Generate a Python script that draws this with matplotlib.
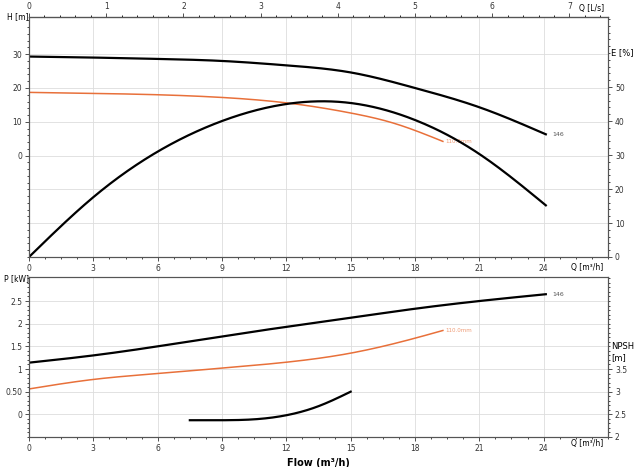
import matplotlib
matplotlib.use("Agg")
import matplotlib.pyplot as plt
import numpy as np
from matplotlib.ticker import MultipleLocator, FixedLocator

# data
q_h146 = [0, 3, 6, 9, 12, 15, 18, 21, 24.1]
h146 = [29.3, 29.0, 28.6, 28.0, 26.7, 24.6, 20.0, 14.3, 6.3]
q_h110 = [0, 3, 6, 9, 12, 15, 17, 19.3]
h110 = [18.7, 18.4, 18.0, 17.2, 15.6, 12.6, 9.6, 4.2]
q_eff = [0, 3, 6, 9, 12, 15, 18, 21, 24.1]
eff = [0, 17.6, 31, 40, 45, 45.3, 40.3, 30.3, 15.2]
q_p146 = [0, 3, 6, 9, 12, 15, 18, 21, 24.1]
p146 = [1.14, 1.3, 1.5, 1.72, 1.93, 2.13, 2.33, 2.5, 2.65]
q_p110 = [0, 3, 6, 9, 12, 15, 18, 19.3]
p110 = [0.56, 0.77, 0.9, 1.02, 1.15, 1.35, 1.68, 1.85]
q_npsh = [7.5, 9, 10.5, 12, 13.5, 15]
npsh = [2.37, 2.37, 2.39, 2.48, 2.68, 3.0]

ORANGE = "#e8703a"
GRID = "#dddddd"
fs = 5.5

def smooth(x, y):
    # natural cubic spline through the read points
    x = np.asarray(x, float); y = np.asarray(y, float)
    n = len(x); h = np.diff(x)
    A = np.zeros((n, n)); b = np.zeros(n)
    A[0, 0] = A[-1, -1] = 1
    for i in range(1, n-1):
        A[i, i-1] = h[i-1]; A[i, i] = 2*(h[i-1]+h[i]); A[i, i+1] = h[i]
        b[i] = 6*((y[i+1]-y[i])/h[i] - (y[i]-y[i-1])/h[i-1])
    M = np.linalg.solve(A, b)
    xs = np.linspace(x[0], x[-1], 300)
    idx = np.clip(np.searchsorted(x, xs) - 1, 0, n-2)
    x0, x1 = x[idx], x[idx+1]; hh = x1 - x0
    ys = (M[idx]*(x1-xs)**3/(6*hh) + M[idx+1]*(xs-x0)**3/(6*hh)
          + (y[idx]/hh - M[idx]*hh/6)*(x1-xs) + (y[idx+1]/hh - M[idx+1]*hh/6)*(xs-x0))
    return xs, ys

fig = plt.figure(figsize=(6.4, 4.67), dpi=100)
L, R = 29/640, 608/640
ax1 = fig.add_axes([L, 1-257/467, R-L, 240/467])
ax2 = fig.add_axes([L, 1-437/467, R-L, 160/467])

def style(ax):
    ax.set_xlim(0, 27)
    ax.xaxis.set_major_locator(FixedLocator([0, 3, 6, 9, 12, 15, 18, 21, 24]))
    ax.xaxis.set_minor_locator(MultipleLocator(0.75))
    ax.grid(True, color=GRID, lw=0.6)
    ax.tick_params(labelsize=fs, length=3, width=0.6, pad=2, colors="#333333")
    ax.tick_params(which="minor", length=1.5, width=0.5)
    for s in ax.spines.values():
        s.set_color("#555555"); s.set_linewidth(0.8)
    ax.set_axisbelow(True)

style(ax1); style(ax2)

# top panel
ax1.set_ylim(-30, 41)
ax1.yaxis.set_major_locator(FixedLocator([0, 10, 20, 30]))
ax1.yaxis.set_minor_locator(MultipleLocator(2))
for yv in [-10, -20]:
    ax1.axhline(yv, color=GRID, lw=0.6, zorder=0)
x, y = smooth(q_h146, h146); ax1.plot(x, y, color="black", lw=1.6)
x, y = smooth(q_h110, h110); ax1.plot(x, y, color=ORANGE, lw=1.1)
ax1.text(24.4, h146[-1], "146", fontsize=4.5, color="#555555", va="center")
ax1.text(19.4, h110[-1], "110.0mm", fontsize=4, color=ORANGE, va="center", alpha=0.7)
axE = ax1.twinx()
axE.set_ylim(0, 70.6)
axE.yaxis.set_major_locator(FixedLocator([0, 10, 20, 30, 40, 50]))
axE.yaxis.set_minor_locator(MultipleLocator(2))
axE.tick_params(labelsize=fs, length=3, width=0.6, pad=2, colors="#333333")
axE.tick_params(which="minor", length=1.5, width=0.5)
x, y = smooth(q_eff, eff); axE.plot(x, y, color="black", lw=1.6)
axE.text(1.006, 60/70.6, "E [%]", transform=ax1.transAxes, fontsize=fs+0.5, va="center")
for s in axE.spines.values():
    s.set_color("#555555"); s.set_linewidth(0.8)
ax1.text(-0.005, 41, "H [m]", fontsize=fs, ha="right", va="center")
top = ax1.secondary_xaxis("top", functions=(lambda q: q/3.6, lambda l: l*3.6))
top.set_xticks(range(0, 8))
top.xaxis.set_minor_locator(MultipleLocator(0.2))
top.tick_params(labelsize=fs, length=3, width=0.6, pad=1, colors="#333333")
top.tick_params(which="minor", length=1.5)
ax1.text(26.8, 43.5, "Q [L/s]", fontsize=fs, ha="right", va="center")
ax1.text(26.8, -33, "Q [m³/h]", fontsize=fs, ha="right", va="center")

# bottom panel
ax2.set_ylim(-0.5, 3.03)
ax2.yaxis.set_major_locator(FixedLocator([0, 0.5, 1, 1.5, 2, 2.5]))
ax2.set_yticklabels(["0", "0.50", "1", "1.5", "2", "2.5"])
ax2.yaxis.set_minor_locator(MultipleLocator(0.1))
x, y = smooth(q_p146, p146); ax2.plot(x, y, color="black", lw=1.6)
x, y = smooth(q_p110, p110); ax2.plot(x, y, color=ORANGE, lw=1.1)
ax2.text(24.4, p146[-1], "146", fontsize=4.5, color="#555555", va="center")
ax2.text(19.4, p110[-1], "110.0mm", fontsize=4, color=ORANGE, va="center", alpha=0.7)
axN = ax2.twinx()
axN.set_ylim(2, 5.53)
axN.yaxis.set_major_locator(FixedLocator([2, 2.5, 3, 3.5]))
axN.set_yticklabels(["2", "2.5", "3", "3.5"])
axN.yaxis.set_minor_locator(MultipleLocator(0.1))
axN.tick_params(labelsize=fs, length=3, width=0.6, pad=2, colors="#333333")
axN.tick_params(which="minor", length=1.5, width=0.5)
for s in axN.spines.values():
    s.set_color("#555555"); s.set_linewidth(0.8)
x, y = smooth(q_npsh, npsh); axN.plot(x, y, color="black", lw=1.6)
axN.text(1.006, 0.53, "NPSH\n[m]", transform=ax2.transAxes, fontsize=fs+0.5, va="center", linespacing=1.4)
ax2.text(-0.005, 3.0, "P [kW]", fontsize=fs, ha="right", va="center")
ax2.text(26.8, -0.64, "Q [m³/h]", fontsize=fs, ha="right", va="center")
ax2.set_xlabel("Flow (m³/h)", fontsize=7, fontweight="bold", labelpad=4)

fig.savefig("out.png", dpi=100)
